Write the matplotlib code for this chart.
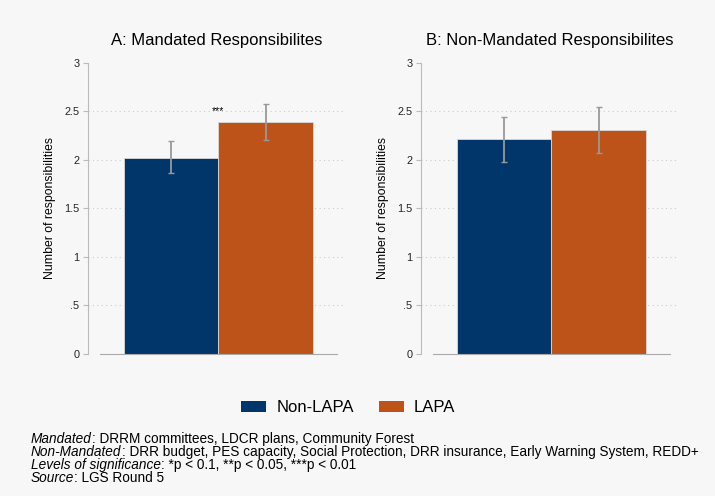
import matplotlib
matplotlib.use("Agg")
import matplotlib.pyplot as plt
from matplotlib.patches import Patch

plt.rcParams['font.family'] = ['Liberation Sans', 'DejaVu Sans']

# group means and 95% CI bounds
groups = ['Non-LAPA', 'LAPA']
panel_titles = ['A: Mandated Responsibilites', 'B: Non-Mandated Responsibilites']
means = [[2.02, 2.385], [2.21, 2.31]]
ci_low = [[1.86, 2.20], [1.98, 2.07]]
ci_high = [[2.19, 2.57], [2.44, 2.54]]
stars = ['***', '']

yticks = [0, 0.5, 1, 1.5, 2, 2.5, 3]
ytick_labels = ['0', '.5', '1', '1.5', '2', '2.5', '3']

# footnote lines: (italic lead, rest)
notes = [
    ('Mandated', ': DRRM committees, LDCR plans, Community Forest'),
    ('Non-Mandated', ': DRR budget, PES capacity, Social Protection, '
                     'DRR insurance, Early Warning System, REDD+'),
    ('Levels of significance', ': *p < 0.1, **p < 0.05, ***p < 0.01'),
    ('Source', ': LGS Round 5'),
]

colors = ['#00366a', '#bd5319']
bg = '#f7f7f7'

fig = plt.figure(figsize=(7.15, 4.96), dpi=100, facecolor=bg)

lefts = [88 / 715, 421 / 715]
for i in range(2):
    ax = fig.add_axes([lefts[i], 1 - 354 / 496, 258 / 715, (354 - 62.7) / 496])
    ax.set_facecolor(bg)
    x = [0, 1]
    err = [[m - lo for m, lo in zip(means[i], ci_low[i])],
           [hi - m for m, hi in zip(means[i], ci_high[i])]]
    ax.bar(x, means[i], width=1.0, color=colors, edgecolor='#d8d8d8',
           linewidth=0.6, zorder=2)
    ax.errorbar(x, means[i], yerr=err, fmt='none', ecolor='#999999',
                elinewidth=1.3, capsize=2.5, capthick=1.0, zorder=3)
    if stars[i]:
        ax.text(0.5, 2.5, stars[i], ha='center', va='center', fontsize=7.5)

    ax.set_xlim(-0.88, 1.85)
    ax.set_ylim(0, 3)
    ax.set_yticks(yticks)
    ax.set_yticklabels(ytick_labels, fontsize=7.8)
    ax.set_xticks([])
    for y in yticks[1:-1]:
        ax.axhline(y, color='#cccccc', linestyle=(0, (1, 3)), linewidth=0.8,
                   zorder=1)

    for s in ['top', 'right']:
        ax.spines[s].set_visible(False)
    ax.spines['left'].set_color('#bbbbbb')
    ax.spines['bottom'].set_color('#aaaaaa')
    ax.spines['bottom'].set_bounds(-0.75, 1.75)
    ax.tick_params(axis='y', colors='#bbbbbb', labelcolor='#222222',
                   length=3.8, width=0.8, pad=2.5)

    ax.set_ylabel('Number of responsibilities', fontsize=8.8, labelpad=6)
    ax.set_title(panel_titles[i], fontsize=12, pad=13)

handles = [Patch(facecolor=c, label=g) for c, g in zip(colors, groups)]
fig.legend(handles=handles, loc='center', bbox_to_anchor=(0.487, 1 - 408 / 496),
           ncol=2, frameon=False, fontsize=12, handlelength=1.5,
           handleheight=0.6, columnspacing=1.5, handletextpad=0.6)

# italic lead then regular text, placed right after it
fig.canvas.draw()
renderer = fig.canvas.get_renderer()
inv = fig.transFigure.inverted()
for k, (lead, rest) in enumerate(notes):
    y = 1 - (439 + 13 * k) / 496
    t = fig.text(31 / 715, y, lead, fontsize=9.8, style='italic',
                 va='center', ha='left')
    bb = t.get_window_extent(renderer)
    x_end = inv.transform((bb.x1, bb.y0))[0]
    fig.text(x_end, y, rest, fontsize=9.8, va='center', ha='left')

fig.savefig('out.png', dpi=100, facecolor=bg)
